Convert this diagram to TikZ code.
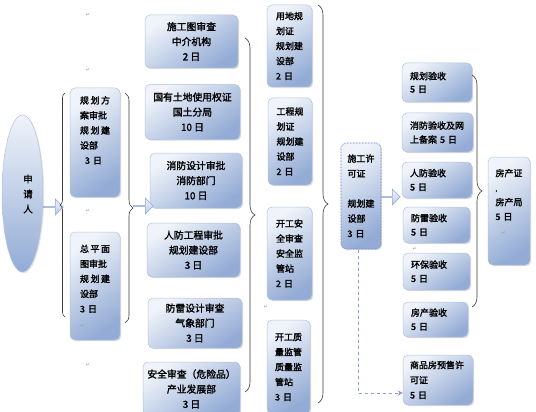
\documentclass[tikz,border=0pt]{standalone}
\usepackage{fontspec}
\setmainfont{Noto Sans CJK SC}
\newfontfamily\cjkb{Noto Sans CJK SC}[FakeBold=1.8]
\newfontfamily\djv{DejaVu Sans}
\usetikzlibrary{shapes.geometric,shapes.arrows,shadows,decorations.pathreplacing,calc,arrows.meta}
\definecolor{bxlight}{HTML}{F0F4FA}
\definecolor{bxdark}{HTML}{93ABD5}
\definecolor{bxedge}{HTML}{B3C4DE}
\definecolor{arredge}{HTML}{8FA6CF}
\definecolor{arrfill}{HTML}{B9CBE6}
\definecolor{brc}{HTML}{3A3A3A}
\definecolor{dsh}{HTML}{8C9ED6}
\definecolor{pzedge}{HTML}{7F8FD6}
\definecolor{markc}{HTML}{9A9A9A}
\newcommand{\pmk}{{\djv\fontsize{5}{5}\selectfont\color{markc}↵}}
\tikzset{
  box/.style={rounded corners=5pt, draw=bxedge, line width=0.5pt,
    top color=bxlight, bottom color=bxdark, shading angle=35,
    drop shadow={shadow xshift=1.2pt, shadow yshift=-1.2pt, opacity=0.25},
    inner sep=0pt, font=\cjkb\fontsize{9}{15}\selectfont, text=black},
  lbox/.style={box, align=left},
  cbox/.style={box, align=center, font=\cjkb\fontsize{9.8}{15}\selectfont},
  bracestyle/.style={draw=brc, line width=0.6pt, decorate,
    decoration={brace, amplitude=#1}},
  blkarrow/.style={shape=single arrow, single arrow head extend=3pt,
    minimum height=20pt, minimum width=16pt, inner sep=0pt,
    draw=arredge, line width=0.5pt, top color=bxlight, bottom color=arrfill, shading angle=0},
  dsharrow/.style={draw=dsh, dashed, line width=0.8pt, -{Stealth[length=5pt,width=5pt]}},
  pmark/.style={font=\djv\fontsize{5}{5}\selectfont, text=markc, inner sep=0pt}
}
\begin{document}
\begin{tikzpicture}[x=1pt,y=-1pt]
\useasboundingbox (0,0) rectangle (536,412);
\fill[white] (0,0) rectangle (536,412);

% applicant ellipse
\node[ellipse, draw=bxedge, line width=0.5pt, top color=bxlight, bottom color=bxdark,
  drop shadow={shadow xshift=1.2pt, shadow yshift=-1.2pt, opacity=0.2},
  minimum width=41pt, minimum height=157pt, inner sep=0pt] (app) at (22.5,193.5) {};
\node[font=\cjkb\fontsize{9.5}{15}\selectfont, align=center, inner sep=0pt] (apptxt) at (28,194) {申\\请\\人};

% column 1
\node[lbox, minimum width=50pt, minimum height=109pt, text width=30pt] (c1a) at (95,142.5)
  {规\hspace{1.5pt}划\hspace{1.5pt}方\\案审批\\规\hspace{1.5pt}划\hspace{1.5pt}建\\设部\\\hspace{5pt}3 日\\[10pt]\mbox{}};
\node[lbox, minimum width=50pt, minimum height=108pt, text width=30pt] (c1b) at (95,286)
  {总\hspace{1.5pt}平\hspace{1.5pt}面\\图审批\\规\hspace{1.5pt}划\hspace{1.5pt}建\\设部\\3 日\\\pmk};

% column 2
\node[cbox, minimum width=93pt, minimum height=53pt] (c2a) at (191.5,41.5) {施工图审查\\中介机构\\2 日};
\node[cbox, minimum width=95pt, minimum height=55pt] (c2b) at (192.5,112) {国有土地使用权证\\国土分局\\10 日};
\node[cbox, minimum width=92pt, minimum height=55pt] (c2c) at (196,180.5) {消防设计审批\\消防部门\\10 日};
\node[cbox, minimum width=93pt, minimum height=54pt] (c2d) at (193.5,250) {人防工程审批\\规划建设部\\3 日};
\node[cbox, minimum width=94pt, minimum height=50pt] (c2e) at (195,323) {防雷设计审查\\气象部门\\3 日};
\node[cbox, minimum width=97pt, minimum height=54pt] (c2f) at (191.5,389) {安全审查（危险品）\\产业发展部\\3 日};

% column 3
\node[lbox, minimum width=45pt, minimum height=82pt, text width=27pt] (c3a) at (289.5,46) {用地规\\划证\\规划建\\设部\\2 日};
\node[lbox, minimum width=44pt, minimum height=87pt, text width=27pt] (c3b) at (290,141.5) {工程规\\划证\\规划建\\设部\\2 日};
\node[lbox, minimum width=45pt, minimum height=93pt, text width=27pt] (c3c) at (289.5,253.5) {开工安\\全审查\\安全监\\管站\\2 日};
\node[lbox, minimum width=43pt, minimum height=94pt, text width=27pt] (c3d) at (288.5,367) {开工质\\量监管\\质量监\\管站\\3 日};

% construction permit
\node[lbox, minimum width=40pt, minimum height=106pt, text width=27pt, draw=pzedge,
  densely dotted, line width=1.1pt] (pz) at (361,196) {施工许\\可证\\[15pt]规划建\\设部\\3 日};

% acceptance column
\node[lbox, minimum width=70pt, minimum height=39pt, text width=54pt, font=\cjkb\fontsize{9}{13}\selectfont] (a1) at (437,82.5) {规划验收\\5 日};
\node[lbox, minimum width=71pt, minimum height=39pt, text width=55pt, font=\cjkb\fontsize{9}{14}\selectfont] (a2) at (437.5,132.5) {消防验收及网\\上备案 5 日};
\node[lbox, minimum width=70pt, minimum height=36pt, text width=54pt, font=\cjkb\fontsize{9}{14}\selectfont] (a3) at (437,180) {人防验收\\5 日};
\node[lbox, minimum width=67pt, minimum height=36pt, text width=51pt, font=\cjkb\fontsize{9}{14}\selectfont] (a4) at (436.5,225) {防雷验收\\5 日};
\node[lbox, minimum width=67pt, minimum height=37pt, text width=51pt, font=\cjkb\fontsize{9}{14}\selectfont] (a5) at (436.5,271.5) {环保验收\\5 日};
\node[lbox, minimum width=65pt, minimum height=35pt, text width=49pt, font=\cjkb\fontsize{9}{14}\selectfont] (a6) at (435.5,319.5) {房产验收\\5 日};
\node[lbox, minimum width=70pt, minimum height=50pt, text width=56pt] (a7) at (438,380) {商品房预售许\\可证\\5 日};

% property certificate
\node[lbox, minimum width=42pt, minimum height=108pt, text width=27pt, font=\cjkb\fontsize{9}{14.5}\selectfont] (fc) at (509,211) {房产证\\{\fontsize{6}{6}\selectfont ,}\\房产局\\5 日\\\hspace{6pt}\pmk\\[4pt]\mbox{}};

% block arrows
\node[blkarrow, anchor=west] (ar1) at (43,207) {};
\node[blkarrow, anchor=west] (ar2) at (133,206) {};
\node[blkarrow, anchor=west, minimum height=19pt] (ar3) at (381,197) {};

% brace end points
\coordinate (b1Lt) at (65,93);   \coordinate (b1Lb) at (65,317);
\coordinate (b1Rt) at (125,93);  \coordinate (b1Rb) at (125,323);
\coordinate (b2t) at (245,38);   \coordinate (b2b) at (245,392);
\coordinate (b3t) at (318,5);    \coordinate (b3b) at (318,403);
\coordinate (b4t) at (472,75);   \coordinate (b4b) at (472,307);

\draw[bracestyle=5pt] (b1Lb) -- (b1Lt);
\draw[bracestyle=8pt] (b1Rt) -- (b1Rb);
\draw[bracestyle=10pt] (b2t) -- (b2b);
\draw[bracestyle=10pt] (b3t) -- (b3b);
\draw[bracestyle=10pt] (b4t) -- (b4b);

% dashed arrow to pre-sale permit
\draw[dsharrow] ([xshift=-3pt]pz.south) |- ($(a7.west)+(0,13)$);

% paragraph marks
\node[pmark] (m1) at (88,15) {↵};
\node[pmark] (m2) at (88,70) {↵};
\node[pmark] (m3) at (88,211) {↵};
\node[pmark] (m4) at (88,365) {↵};
\node[pmark] (m5) at (266,307) {↵};
\node[pmark] (m6) at (415,249) {↵};
\end{tikzpicture}
\end{document}
